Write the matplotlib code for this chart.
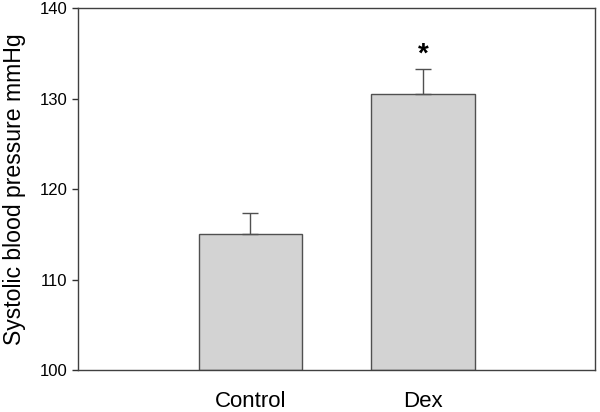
import matplotlib
matplotlib.use("Agg")
import matplotlib.pyplot as plt

groups = ["Control", "Dex"]
means = [115.0, 130.5]
errors = [2.4, 2.8]
marks = ["", "*"]

plt.rcParams["font.family"] = ["Liberation Sans", "DejaVu Sans"]

fig = plt.figure(figsize=(6.0, 4.12), dpi=100)
ax = fig.add_axes([0.13, 0.102, 0.862, 0.878])

x = list(range(len(groups)))
ax.bar(x, [m - 100 for m in means], bottom=100, width=0.6, color="#d3d3d3",
       edgecolor="#505050", linewidth=1.0, zorder=2)
ax.errorbar(x, means, yerr=[[0] * len(errors), errors], fmt="none",
            ecolor="#505050", elinewidth=1.0, capsize=6, capthick=1.0, zorder=3)
for xi, m, e, s in zip(x, means, errors, marks):
    if s:
        ax.text(xi, m + e + 0.1, s, ha="center", va="bottom", fontsize=20,
                fontweight="bold")

ax.set_xlim(-1, 2)
ax.set_ylim(100, 140)
ax.set_yticks([100, 110, 120, 130, 140])
ax.set_xticks(x)
ax.set_xticklabels(groups, fontsize=16)
ax.tick_params(axis="x", length=0, pad=15)
ax.tick_params(axis="y", direction="out", length=4, width=1, labelsize=12,
               colors="#303030", labelcolor="black")
ax.set_ylabel("Systolic blood pressure mmHg", fontsize=16.6, labelpad=10)
for sp in ax.spines.values():
    sp.set_color("#404040")
    sp.set_linewidth(1.0)

fig.savefig("out.png", dpi=100)
